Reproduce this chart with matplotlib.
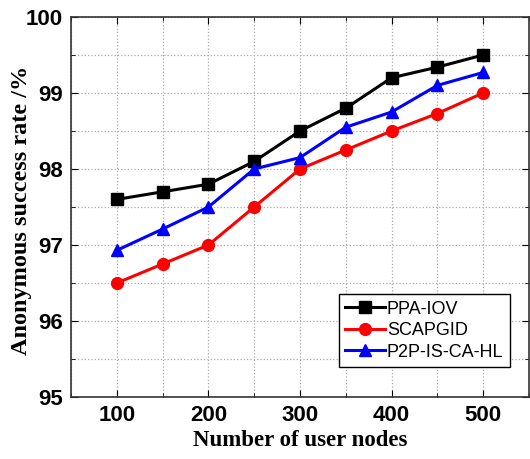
import matplotlib.pyplot as plt
from matplotlib.ticker import MultipleLocator

nodes = [100, 150, 200, 250, 300, 350, 400, 450, 500]
ppa_iov = [97.6, 97.7, 97.8, 98.1, 98.5, 98.8, 99.2, 99.34, 99.5]
scapgid = [96.5, 96.75, 97.0, 97.5, 98.0, 98.25, 98.5, 98.73, 99.0]
p2p_is_ca_hl = [96.93, 97.21, 97.5, 98.0, 98.15, 98.55, 98.75, 99.1, 99.27]

fig = plt.figure(figsize=(5.30, 4.59), dpi=100)
ax = fig.add_axes([0.134, 0.135, 0.864, 0.828])

ax.plot(nodes, ppa_iov, color='black', marker='s', markersize=8, linewidth=2.2, label='PPA-IOV')
ax.plot(nodes, scapgid, color='red', marker='o', markersize=8.5, linewidth=2.2, label='SCAPGID')
ax.plot(nodes, p2p_is_ca_hl, color='blue', marker='^', markersize=8.5, linewidth=2.2, label='P2P-IS-CA-HL')

ax.set_xlim(50, 550)
ax.set_ylim(95, 100)
ax.xaxis.set_major_locator(MultipleLocator(100))
ax.xaxis.set_minor_locator(MultipleLocator(50))
ax.yaxis.set_major_locator(MultipleLocator(1))
ax.yaxis.set_minor_locator(MultipleLocator(0.5))
ax.grid(True, which='both', linestyle=':', color='#aaaaaa', linewidth=0.9)
ax.tick_params(which='both', direction='in', top=True, right=True)
ax.tick_params(which='major', length=5, labelsize=16, pad=6)
ax.tick_params(which='minor', length=3)
for lab in ax.get_xticklabels() + ax.get_yticklabels():
    lab.set_fontfamily('Liberation Sans')
    lab.set_fontweight('bold')
for s in ax.spines.values():
    s.set_linewidth(1.2)
    s.set_color('#333333')

ax.set_xlabel('Number of user nodes', fontfamily='Liberation Serif', fontweight='bold', fontsize=16.5)
ax.set_ylabel('Anonymous success rate /%', fontfamily='Liberation Serif', fontweight='bold', fontsize=17.5)
ax.xaxis.set_label_coords(0.5, -0.087)
ax.yaxis.set_label_coords(-0.085, 0.49)

leg = ax.legend(loc='lower right', bbox_to_anchor=(0.958, 0.079), prop={'family': 'Liberation Sans', 'size': 13},
                fancybox=False, edgecolor='black', framealpha=1, handlelength=2.2,
                borderpad=0.35, labelspacing=0.25, handletextpad=0.1, borderaxespad=0)
leg.get_frame().set_linewidth(1.0)

fig.savefig('out.png', dpi=100)
